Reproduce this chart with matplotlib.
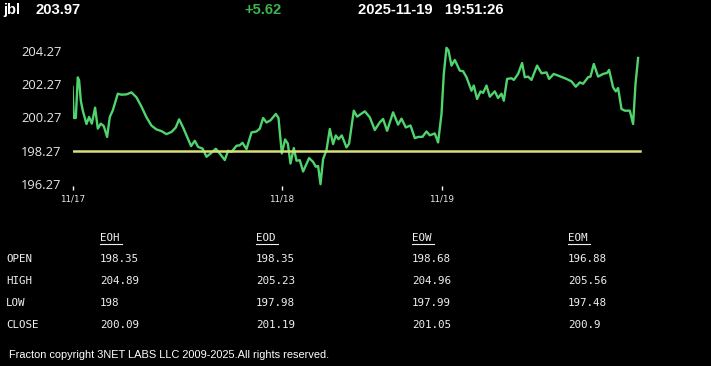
import matplotlib
matplotlib.use("Agg")
import matplotlib.pyplot as plt

# header
symbol = "jbl"
last_price = "203.97"
change = "+5.62"
stamp = "2025-11-19   19:51:26"

# intraday series: sample index and price
t = [0, 1.3, 3.3, 5.3, 6.6, 8.3, 10.3, 14, 16.6, 19.3,
     22.6, 25.3, 28.3, 31.3, 34.6, 37.3, 40.3, 45.3, 49, 54,
     59, 64, 69, 74, 79, 84, 89, 94, 99, 103.3,
     106.6, 110.6, 114.6, 118.6, 122.3, 125.6, 130, 134, 138, 143.3,
     147.3, 152.3, 155.6, 159, 164, 167.3, 170, 174, 179, 184,
     187.3, 190.6, 194, 198, 203.3, 206, 209.3, 212.6, 215.3, 218,
     221.3, 224, 227.3, 230.6, 236.6, 240.6, 243.3, 245.6, 248, 250.6,
     254, 257.3, 260.6, 263.3, 266, 269.3, 274, 276.6, 281.3, 284.6,
     292.3, 297.3, 302.3, 307.3, 310.6, 314.6, 320.6, 325.6, 329, 333.3,
     338, 342.3, 345.6, 350, 354, 357.3, 362.3, 365.6, 369, 371.3,
     374, 376, 379, 382.3, 387.3, 390.6, 394, 399, 401.3, 404.6,
     408, 410.6, 414, 417.3, 422.3, 425.6, 429, 431.3, 434.6, 439,
     441.3, 445.6, 449.6, 452.3, 455.6, 459, 464.6, 469, 474, 476.6,
     481.3, 487.3, 494, 499, 503.3, 507.3, 510.6, 515.6, 518, 521.3,
     525.6, 530.6, 534.6, 536.6, 540.6, 543.3, 545.6, 549, 552.3, 557.3,
     560.6, 563, 565.6]
price = [202.1, 200.24, 200.24, 202.68, 202.5, 201.28, 200.68, 199.88, 200.3, 199.9,
         200.86, 199.6, 199.9, 199.75, 199.1, 200.3, 200.7, 201.7, 201.64, 201.66,
         201.78, 201.48, 200.92, 200.28, 199.78, 199.55, 199.45, 199.27, 199.4, 199.67,
         200.16, 199.67, 199.11, 198.55, 198.87, 198.5, 198.4, 197.91, 198.1, 198.39,
         198.1, 197.71, 198.27, 198.2, 198.57, 198.6, 198.75, 198.37, 199.37, 199.43,
         199.6, 200.24, 199.97, 200.1, 200.48, 200.24, 198.11, 198.95, 198.7, 197.5,
         198.43, 197.67, 197.7, 197.02, 197.83, 197.6, 197.31, 197.35, 196.26, 197.77,
         198.31, 199.58, 198.67, 199.19, 198.97, 199.19, 198.47, 198.7, 200.68, 200.32,
         200.64, 200.28, 199.52, 199.98, 200.18, 199.47, 200.58, 199.84, 200.2, 199.67,
         199.79, 199.03, 199.1, 199.11, 199.43, 199.2, 199.31, 198.77, 200.48, 202.89,
         204.46, 204.3, 203.39, 203.73, 203.09, 203.05, 202.69, 201.88, 202.19, 201.38,
         201.84, 201.75, 202.19, 201.52, 201.84, 201.44, 201.7, 201.28, 202.59, 202.63,
         202.53, 202.89, 203.55, 202.69, 202.73, 202.53, 203.39, 202.93, 202.98, 202.59,
         202.89, 202.75, 202.59, 202.44, 202.12, 202.38, 202.3, 202.69, 202.73, 203.49,
         202.73, 202.89, 202.95, 203.13, 202.08, 201.84, 202.04, 200.78, 200.68, 200.68,
         199.88, 202.29, 203.85]
ref_price = 198.27

yticks = [196.27, 198.27, 200.27, 202.27, 204.27]
xtick_pos = [0, 209.3, 369]
xtick_labels = ["11/17", "11/18", "11/19"]

# summary table
cols = ["EOH", "EOD", "EOW", "EOM"]
rows = ["OPEN", "HIGH", "LOW", "CLOSE"]
table = [["198.35", "198.35", "198.68", "196.88"],
         ["204.89", "205.23", "204.96", "205.56"],
         ["198", "197.98", "197.99", "197.48"],
         ["200.09", "201.19", "201.05", "200.9"]]

W, H = 711, 366
fig = plt.figure(figsize=(W / 100, H / 100), dpi=100, facecolor="black")

hdr = dict(color="white", fontsize=10.6, fontweight="bold", family="Liberation Sans", va="center")
fig.text(3 / W, 1 - 10 / H, symbol, **hdr)
fig.text(35 / W, 1 - 10 / H, last_price, **hdr)
fig.text(244 / W, 1 - 10 / H, change, **{**hdr, "color": "#3cb44b"})
fig.text(358 / W, 1 - 10 / H, stamp, **hdr)

ax = fig.add_axes([72.5 / W, 1 - 186 / H, 573 / W, 146 / H], facecolor="black")
ax.plot(t, price, color="#4fd46e", lw=1.7, solid_joinstyle="round")
ax.plot([t[0], t[-1] + 2], [ref_price, ref_price], color="#d8e07a", lw=1.8)
ax.set_xlim(0, 573)
ax.set_ylim(196.15, 204.93)
for s in ax.spines.values():
    s.set_visible(False)
ax.set_yticks(yticks)
ax.set_yticklabels([f"{v:.2f}" for v in yticks], family="Open Sans", fontsize=9.3, color="#e8e8e8")
ax.tick_params(axis="y", length=0, pad=8)
ax.set_xticks(xtick_pos)
ax.set_xticklabels(xtick_labels, fontsize=6.3, color="#e8e8e8", family="DejaVu Sans")
ax.tick_params(axis="x", length=3, width=1, color="white", pad=3, direction="out")

mono = dict(color="#f0f0f0", fontsize=7.8, family="DejaVu Sans Mono", va="center")
col_x = [100, 256, 412, 568]
row_y = [259, 280.5, 302.5, 324.5]
for cx, name in zip(col_x, cols):
    fig.text(cx / W, 1 - 238 / H, name, **mono)
    fig.add_artist(plt.Line2D([cx / W, (cx + 22) / W], [1 - 244 / H, 1 - 244 / H],
                              color="#f0f0f0", lw=0.8))
for ry, name, vals in zip(row_y, rows, table):
    fig.text(6 / W, 1 - ry / H, name, **mono)
    for cx, v in zip(col_x, vals):
        fig.text(cx / W, 1 - ry / H, v, **mono)

fig.text(9 / W, 1 - 355.5 / H, "Fracton copyright 3NET LABS LLC 2009-2025.All rights reserved.",
         color="white", fontsize=7.9, family="Liberation Sans", va="center")

fig.savefig("out.png", dpi=100, facecolor="black")
